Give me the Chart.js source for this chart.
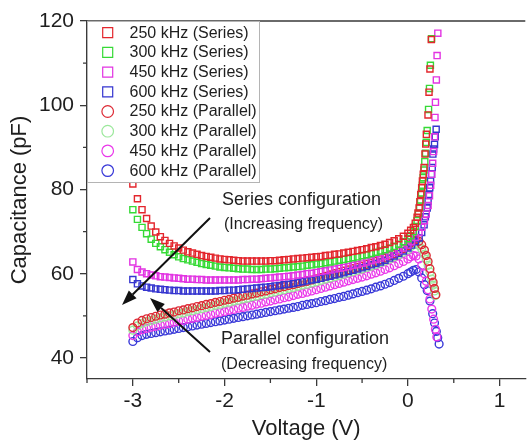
<!DOCTYPE html>
<html>
<head>
<meta charset="utf-8">
<script src="https://cdn.jsdelivr.net/npm/chart.js@4.4.1/dist/chart.umd.min.js"></script>
<style>
  html, body { margin: 0; padding: 0; background: #fff; }
  canvas { display: block; }
</style>
</head>
<body>
<canvas id="capChart" width="531" height="440" style="width:531px;height:440px"></canvas>
<script>
// bias sweep (V), shared by all eight curves up to 0 V
const voltage = [
  -3.00, -2.95, -2.90, -2.85, -2.80, -2.75, -2.70, -2.65, -2.60, -2.55,
  -2.50, -2.45, -2.40, -2.35, -2.30, -2.25, -2.20, -2.15, -2.10, -2.05,
  -2.00, -1.95, -1.90, -1.85, -1.80, -1.75, -1.70, -1.65, -1.60, -1.55,
  -1.50, -1.45, -1.40, -1.35, -1.30, -1.25, -1.20, -1.15, -1.10, -1.05,
  -1.00, -0.95, -0.90, -0.85, -0.80, -0.75, -0.70, -0.65, -0.60, -0.55,
  -0.50, -0.45, -0.40, -0.35, -0.30, -0.25, -0.20, -0.15, -0.10, -0.05, 0.00
];

// capacitance (pF), series configuration
const ser250 = [
  81.3, 77.8, 75.2, 73.1, 71.3, 69.9, 68.8, 67.9, 67.2, 66.6,
  66.1, 65.6, 65.2, 64.9, 64.6, 64.3, 64.1, 63.9, 63.7, 63.5,
  63.4, 63.3, 63.2, 63.1, 63.0, 63.0, 63.0, 63.0, 63.0, 63.0,
  63.1, 63.1, 63.2, 63.3, 63.4, 63.5, 63.6, 63.7, 63.8, 63.9,
  64.0, 64.1, 64.3, 64.4, 64.6, 64.7, 64.9, 65.1, 65.3, 65.5,
  65.7, 65.9, 66.2, 66.4, 66.7, 67.0, 67.4, 67.8, 68.3, 68.9, 69.6
];
const ser300 = [
  75.2, 72.9, 71.0, 69.5, 68.2, 67.2, 66.4, 65.7, 65.1, 64.5,
  64.0, 63.6, 63.3, 63.0, 62.7, 62.4, 62.2, 62.0, 61.8, 61.6,
  61.5, 61.4, 61.3, 61.2, 61.1, 61.1, 61.0, 61.0, 61.0, 61.1,
  61.1, 61.2, 61.3, 61.4, 61.5, 61.6, 61.7, 61.8, 62.0, 62.1,
  62.3, 62.4, 62.6, 62.8, 63.0, 63.2, 63.4, 63.6, 63.8, 64.0,
  64.3, 64.5, 64.8, 65.1, 65.4, 65.7, 66.1, 66.5, 67.0, 67.6, 68.3
];
const ser450 = [
  62.8, 61.0, 60.4, 60.0, 59.7, 59.5, 59.3, 59.2, 59.1, 59.0,
  58.9, 58.8, 58.7, 58.7, 58.6, 58.6, 58.5, 58.5, 58.5, 58.5,
  58.5, 58.5, 58.5, 58.5, 58.6, 58.6, 58.7, 58.7, 58.8, 58.9,
  59.0, 59.1, 59.2, 59.3, 59.4, 59.5, 59.7, 59.8, 60.0, 60.1,
  60.3, 60.5, 60.7, 60.9, 61.1, 61.3, 61.5, 61.7, 62.0, 62.2,
  62.5, 62.8, 63.1, 63.4, 63.7, 64.1, 64.5, 65.0, 65.5, 66.1, 66.8
];
const ser600 = [
  58.6, 57.6, 57.1, 56.8, 56.6, 56.4, 56.3, 56.2, 56.1, 56.0,
  56.0, 55.9, 55.9, 55.9, 55.9, 55.9, 55.9, 55.9, 55.9, 56.0,
  56.0, 56.1, 56.1, 56.2, 56.3, 56.4, 56.5, 56.6, 56.7, 56.8,
  56.9, 57.1, 57.2, 57.4, 57.5, 57.7, 57.9, 58.1, 58.3, 58.5,
  58.7, 58.9, 59.2, 59.4, 59.7, 59.9, 60.2, 60.5, 60.8, 61.1,
  61.4, 61.7, 62.1, 62.4, 62.8, 63.2, 63.7, 64.2, 64.8, 65.4, 66.1
];

// capacitance (pF), parallel configuration
const par250 = [
  47.2, 48.3, 48.9, 49.3, 49.6, 49.9, 50.2, 50.4, 50.7, 50.9,
  51.2, 51.4, 51.7, 51.9, 52.2, 52.4, 52.7, 52.9, 53.2, 53.4,
  53.7, 53.9, 54.2, 54.4, 54.7, 54.9, 55.2, 55.4, 55.7, 55.9,
  56.2, 56.4, 56.7, 56.9, 57.2, 57.4, 57.7, 58.0, 58.2, 58.5,
  58.8, 59.1, 59.4, 59.7, 60.0, 60.3, 60.6, 60.9, 61.2, 61.5,
  61.8, 62.2, 62.5, 62.9, 63.3, 63.7, 64.2, 64.7, 65.3, 65.9, 66.6
];
const par300 = [
  46.6, 47.6, 48.2, 48.6, 48.9, 49.2, 49.5, 49.7, 50.0, 50.2,
  50.5, 50.7, 51.0, 51.2, 51.5, 51.7, 52.0, 52.2, 52.5, 52.7,
  53.0, 53.2, 53.5, 53.7, 54.0, 54.2, 54.5, 54.7, 55.0, 55.2,
  55.5, 55.7, 56.0, 56.2, 56.5, 56.7, 57.0, 57.3, 57.5, 57.8,
  58.1, 58.4, 58.7, 59.0, 59.3, 59.6, 59.9, 60.2, 60.5, 60.8,
  61.1, 61.5, 61.8, 62.2, 62.6, 63.0, 63.5, 64.0, 64.5, 65.1, 65.7
];
const par450 = [
  45.3, 46.2, 46.7, 47.0, 47.3, 47.5, 47.8, 48.0, 48.2, 48.5,
  48.7, 48.9, 49.2, 49.4, 49.6, 49.9, 50.1, 50.3, 50.6, 50.8,
  51.0, 51.3, 51.5, 51.8, 52.0, 52.3, 52.5, 52.8, 53.0, 53.3,
  53.5, 53.8, 54.0, 54.3, 54.5, 54.8, 55.1, 55.3, 55.6, 55.9,
  56.2, 56.5, 56.8, 57.1, 57.4, 57.7, 58.0, 58.3, 58.6, 58.9,
  59.2, 59.5, 59.9, 60.2, 60.6, 61.0, 61.4, 61.9, 62.4, 62.9, 63.5
];
const par600 = [
  43.9, 44.8, 45.3, 45.6, 45.8, 46.0, 46.2, 46.4, 46.6, 46.8,
  47.0, 47.2, 47.4, 47.6, 47.8, 48.0, 48.2, 48.4, 48.6, 48.8,
  49.0, 49.2, 49.4, 49.6, 49.8, 50.0, 50.2, 50.4, 50.6, 50.8,
  51.0, 51.2, 51.4, 51.6, 51.8, 52.0, 52.2, 52.5, 52.7, 52.9,
  53.1, 53.4, 53.6, 53.9, 54.1, 54.4, 54.6, 54.9, 55.2, 55.5,
  55.8, 56.1, 56.4, 56.8, 57.1, 57.5, 57.9, 58.4, 58.9, 59.4, 60.0
];

// forward-bias tails (V, pF)
const ser250TailV = [0.03, 0.06, 0.08, 0.10, 0.11, 0.122, 0.13, 0.14, 0.15, 0.158, 0.167, 0.176, 0.186, 0.194, 0.201, 0.219, 0.23, 0.24, 0.255];
const ser250TailC = [70.3, 71.0, 72.0, 73.4, 74.4, 75.6, 77.1, 78.8, 80.4, 82.0, 83.6, 85.2, 88.4, 90.8, 93.1, 97.7, 103.1, 108.6, 115.6];
const ser300TailV = [0.03, 0.06, 0.08, 0.10, 0.115, 0.128, 0.138, 0.148, 0.157, 0.166, 0.175, 0.184, 0.192, 0.20, 0.21, 0.225, 0.235, 0.245, 0.258];
const ser300TailC = [69.0, 70.0, 71.2, 72.6, 74.2, 75.8, 77.5, 79.2, 81.0, 82.8, 84.6, 86.6, 88.6, 91.2, 94.0, 99.0, 104.0, 109.5, 115.8];
const ser450TailV = [0.04, 0.08, 0.12, 0.15, 0.18, 0.20, 0.22, 0.235, 0.248, 0.26, 0.27, 0.28, 0.29, 0.295, 0.30, 0.31, 0.318, 0.326];
const ser450TailC = [67.6, 68.6, 69.8, 71.0, 72.6, 74.2, 76.2, 78.5, 81.0, 83.6, 86.2, 89.0, 92.5, 97.1, 100.7, 106.0, 111.8, 117.1];
const ser600TailV = [0.04, 0.08, 0.122, 0.15, 0.176, 0.19, 0.21, 0.22, 0.229, 0.238, 0.247, 0.256, 0.265, 0.272, 0.28, 0.29, 0.298, 0.308];
const ser600TailC = [66.8, 67.6, 68.5, 69.8, 71.6, 73.5, 75.6, 77.2, 78.8, 80.4, 82.0, 83.6, 85.2, 88.4, 89.6, 90.7, 92.5, 94.3];

const par250TailV = [0.03, 0.06, 0.09, 0.12, 0.15, 0.18, 0.20, 0.22, 0.24, 0.26, 0.275, 0.29, 0.305];
const par250TailC = [67.3, 67.8, 68.0, 67.7, 66.9, 65.6, 64.3, 62.9, 61.2, 59.5, 58.0, 56.5, 55.0];
const par300TailV = [0.03, 0.06, 0.09, 0.12, 0.15, 0.18, 0.20, 0.22, 0.24, 0.26, 0.275, 0.29, 0.30];
const par300TailC = [66.4, 66.9, 67.0, 66.7, 65.9, 64.6, 63.4, 62.0, 60.4, 58.7, 57.3, 55.9, 54.8];
const par450TailV = [0.03, 0.06, 0.09, 0.12, 0.15, 0.18, 0.20, 0.22, 0.24, 0.26, 0.28, 0.30, 0.315];
const par450TailC = [64.0, 64.3, 64.2, 63.5, 62.0, 60.0, 58.2, 56.2, 54.0, 51.6, 49.2, 46.8, 45.0];
const par600TailV = [0.03, 0.06, 0.09, 0.12, 0.15, 0.18, 0.21, 0.24, 0.27, 0.29, 0.31, 0.325, 0.34];
const par600TailC = [60.4, 60.8, 61.0, 60.4, 59.0, 57.4, 56.0, 53.5, 50.5, 48.3, 46.3, 44.8, 43.3];

const labels = [
  '250 kHz (Series)', '300 kHz (Series)', '450 kHz (Series)', '600 kHz (Series)',
  '250 kHz (Parallel)', '300 kHz (Parallel)', '450 kHz (Parallel)', '600 kHz (Parallel)'
];
const colors = ['#e3262d', '#36da36', '#e233e2', '#3535cf', '#dd2a35', '#9be89b', '#ea38ea', '#3838d8'];

const xMajor = [-3, -2, -1, 0, 1];
const xMinor = [-3.5, -2.5, -1.5, -0.5, 0.5];
const yMajor = [40, 60, 80, 100, 120];
const yMinor = [50, 70, 90, 110];

const FONT = 'Arial, "Liberation Sans", Helvetica, sans-serif';

const toPoints = (vs, cs, tv, tc) =>
  vs.map((v, i) => ({ x: v, y: cs[i] })).concat(tv.map((v, i) => ({ x: v, y: tc[i] })));

const curves = [
  toPoints(voltage, ser250, ser250TailV, ser250TailC),
  toPoints(voltage, ser300, ser300TailV, ser300TailC),
  toPoints(voltage, ser450, ser450TailV, ser450TailC),
  toPoints(voltage, ser600, ser600TailV, ser600TailC),
  toPoints(voltage, par250, par250TailV, par250TailC),
  toPoints(voltage, par300, par300TailV, par300TailC),
  toPoints(voltage, par450, par450TailV, par450TailC),
  toPoints(voltage, par600, par600TailV, par600TailC)
];

const datasets = curves.map((pts, i) => ({
  label: labels[i],
  data: pts,
  showLine: false,
  pointStyle: i < 4 ? 'rect' : 'circle',
  pointRadius: i < 4 ? 4.3 : 3.9,
  pointBorderWidth: 1.4,
  pointBorderColor: colors[i],
  pointBackgroundColor: 'rgba(0,0,0,0)',
  borderColor: colors[i],
  backgroundColor: 'rgba(0,0,0,0)'
}));

function arrow(ctx, x1, y1, x2, y2) {
  const ang = Math.atan2(y2 - y1, x2 - x1);
  const len = 15, half = 5.5;
  const bx = x2 - len * Math.cos(ang), by = y2 - len * Math.sin(ang);
  ctx.beginPath();
  ctx.moveTo(x1, y1);
  ctx.lineTo(bx, by);
  ctx.stroke();
  ctx.beginPath();
  ctx.moveTo(x2, y2);
  ctx.lineTo(bx + half * Math.sin(ang), by - half * Math.cos(ang));
  ctx.lineTo(bx - half * Math.sin(ang), by + half * Math.cos(ang));
  ctx.closePath();
  ctx.fill();
}

const overlay = {
  id: 'overlay',
  afterDraw(chart) {
    const { ctx, chartArea: a, scales: { x, y } } = chart;
    ctx.save();

    // frame top + minor ticks
    ctx.strokeStyle = '#3a3a3a';
    ctx.lineWidth = 1.3;
    ctx.beginPath();
    ctx.moveTo(a.left, a.top);
    ctx.lineTo(a.right, a.top);
    xMinor.forEach(v => {
      const px = x.getPixelForValue(v);
      ctx.moveTo(px, a.bottom);
      ctx.lineTo(px, a.bottom + 4);
    });
    yMinor.forEach(v => {
      const py = y.getPixelForValue(v);
      ctx.moveTo(a.left, py);
      ctx.lineTo(a.left - 4, py);
    });
    ctx.stroke();

    // annotations
    ctx.fillStyle = '#1e1e1e';
    ctx.strokeStyle = '#111';
    ctx.lineWidth = 2;
    ctx.textBaseline = 'middle';
    ctx.textAlign = 'left';
    ctx.font = '18px ' + FONT;
    ctx.fillText('Series configuration', 222, 200);
    ctx.fillText('Parallel configuration', 221, 339);
    ctx.font = '16px ' + FONT;
    ctx.fillText('(Increasing frequency)', 224, 225);
    ctx.fillText('(Decreasing frequency)', 221, 365);
    ctx.fillStyle = '#111';
    arrow(ctx, 210, 218, 122, 305);
    arrow(ctx, 210, 352, 150, 298);

    // legend box
    const lx = a.left + 0.5, ly = a.top + 0.5, lw = 172, lh = 161;
    ctx.fillStyle = '#fff';
    ctx.fillRect(lx, ly, lw, lh);
    ctx.strokeStyle = '#b4b4b4';
    ctx.lineWidth = 1;
    ctx.strokeRect(lx, ly, lw, lh);
    ctx.font = '16px ' + FONT;
    labels.forEach((txt, i) => {
      const cy = 32.7 + 19.7 * i;
      ctx.strokeStyle = colors[i];
      ctx.lineWidth = 1.2;
      ctx.beginPath();
      if (i < 4) ctx.rect(102.7, cy - 5, 10, 10);
      else ctx.arc(107.7, cy, 5.8, 0, Math.PI * 2);
      ctx.stroke();
      ctx.fillStyle = '#1e1e1e';
      ctx.fillText(txt, 129.5, cy + 0.5);
    });

    ctx.restore();
  }
};

new Chart(document.getElementById('capChart'), {
  type: 'scatter',
  data: { datasets },
  options: {
    responsive: false,
    animation: false,
    events: [],
    layout: { padding: { top: 21, right: 0, bottom: 0, left: 0 } },
    plugins: {
      legend: { display: false },
      tooltip: { enabled: false }
    },
    scales: {
      x: {
        type: 'linear',
        min: -3.5,
        max: 1.28,
        afterBuildTicks: s => { s.ticks = xMajor.map(v => ({ value: v })); },
        afterFit: s => { s.height = 61; },
        border: { display: true, color: '#3a3a3a', width: 1.3 },
        grid: { drawOnChartArea: false, drawTicks: true, tickLength: 7, color: '#3a3a3a', lineWidth: 1.3 },
        ticks: { color: '#1e1e1e', padding: 3, maxRotation: 0, font: { family: FONT, size: 21 }, callback: v => String(v) },
        title: { display: true, text: 'Voltage (V)', color: '#1e1e1e', padding: { top: 0, bottom: 0 }, font: { family: FONT, size: 22, lineHeight: 1 } }
      },
      y: {
        type: 'linear',
        min: 35,
        max: 120,
        afterBuildTicks: s => { s.ticks = yMajor.map(v => ({ value: v })); },
        afterFit: s => { s.width = 87; },
        border: { display: true, color: '#3a3a3a', width: 1.3 },
        grid: { drawOnChartArea: false, drawTicks: true, tickLength: 7, color: '#3a3a3a', lineWidth: 1.3 },
        ticks: { color: '#1e1e1e', padding: 6, font: { family: FONT, size: 21 }, callback: v => String(v) },
        title: { display: true, text: 'Capacitance (pF)', color: '#1e1e1e', padding: { top: 9, bottom: 0 }, font: { family: FONT, size: 22, lineHeight: 1 } }
      }
    }
  },
  plugins: [overlay]
});
</script>
</body>
</html>
